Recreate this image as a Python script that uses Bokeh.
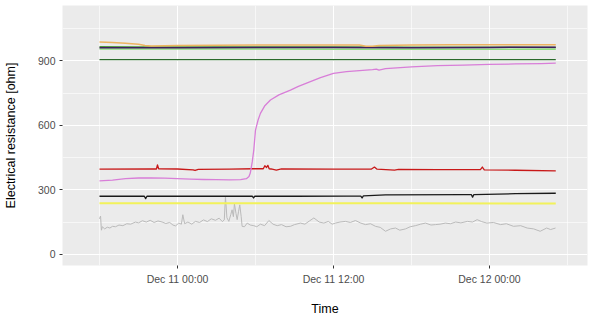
import pandas as pd
from bokeh.plotting import figure
from bokeh.models import Range1d, FixedTicker, DatetimeTickFormatter
from bokeh.embed import file_html
from bokeh.resources import INLINE

# time offsets in hours relative to Dec 11 00:00
BASE = pd.Timestamp("2023-12-11 00:00:00")

orange_h = [-6, -5, -4, -3, -2.5, -2, 0, 3, 6, 9, 12, 14, 14.5, 15, 15.5, 18, 21, 24, 27, 29.1]
orange_v = [988, 986, 983, 978, 972, 970, 972, 973, 974, 974, 974, 974, 968, 968, 972, 974, 975, 975, 976, 976]

purple_h = [-6, -3, 0, 6, 12, 18, 24, 29.1]
purple_v = [962, 962, 962, 963, 963, 962, 963, 964]

green_h = [-6, -3, 0, 6, 12, 18, 24, 29.1]
green_v = [966, 965, 965, 965, 965, 964, 964, 963]

lightgreen_h = [-6, 0, 6, 12, 18, 24, 29.1]
lightgreen_v = [956, 956, 956, 955, 955, 955, 955]

darkgreen_h = [-6, 0, 6, 12, 18, 24, 29.1]
darkgreen_v = [906, 906, 906, 906, 906, 906, 906]

violet_h = [-6, -5, -4, -3, -2, -1, 0, 1, 2, 3, 4, 4.85, 5.3, 5.5, 5.6, 5.75, 5.87, 6.0, 6.2, 6.38,
            6.7, 7.15, 7.8, 8.69, 9.3, 9.98, 11, 12, 13, 14, 15, 15.3, 15.5, 16, 18, 20, 22, 24, 26, 28, 29.1]
violet_v = [342, 345, 352, 355, 355, 354, 352, 350, 348, 347, 346, 347, 352, 362, 378, 430, 486, 578, 625, 656,
            690, 718, 742, 764, 782, 798, 822, 842, 850, 855, 860, 862, 857, 864, 872, 878, 881, 884, 886, 888, 890]

red_h = [-6, -2, -1.62, -1.54, -1.45, 0, 1.2, 1.35, 1.6, 4, 5.9, 6.6, 6.72, 6.85, 6.95, 7.05, 7.2, 7.6, 8,
         12, 14.9, 15.15, 15.35, 16.7, 17.0, 20, 23.3, 23.45, 23.6, 26, 29.1]
red_v = [396, 397, 397, 416, 398, 397, 393, 390, 395, 396, 398, 398, 412, 404, 414, 398, 397, 392, 397,
         396, 396, 406, 396, 392, 395, 394, 394, 406, 393, 391, 388]

black_h = [-6, -3, -2.55, -2.45, -2.35, 0, 5.75, 5.85, 5.95, 9, 13, 14.1, 14.2, 14.3, 16, 22, 22.6, 22.7, 22.8, 26, 29.1]
black_v = [270, 271, 270, 259, 270, 270, 271, 262, 271, 270, 271, 271, 262, 272, 276, 278, 278, 266, 278, 282, 284]

yellow_h = [-6, 6, 18, 29.1]
yellow_v = [238, 237, 237, 236]

gray_h = [-6.0, -5.92, -5.85, -5.78, -5.6, -5.4, -5.2, -5.0, -4.77, -4.5, -4.2, -3.9, -3.6, -3.23, -3.0,
          -2.7, -2.4, -2.1, -1.8, -1.5, -1.18, -0.9, -0.6, -0.35, -0.15, 0.1, 0.3, 0.41, 0.55, 0.8,
          1.1, 1.38, 1.7, 2.0, 2.3, 2.6, 2.92, 3.2, 3.45, 3.6, 3.69, 3.8, 3.95, 4.1, 4.2, 4.3, 4.38,
          4.5, 4.59, 4.7, 4.79, 4.9, 4.97, 5.15, 5.36, 5.6, 5.87, 6.1, 6.38, 6.7, 7.03, 7.35, 7.67,
          8.0, 8.35, 8.69, 9.0, 9.46, 9.8, 10.15, 10.49, 10.9, 11.26, 11.6, 11.9, 12.15, 12.5, 12.92,
          13.3, 13.69, 14.1, 14.46, 14.85, 15.23, 15.6, 16.0, 16.4, 16.77, 17.1, 17.54, 17.9, 18.3,
          18.7, 19.08, 19.5, 19.85, 20.2, 20.6, 21.0, 21.4, 21.8, 22.3, 22.7, 23.05, 23.4, 23.8,
          24.3, 24.85, 25.3, 25.85, 26.4, 26.9, 27.4, 27.9, 28.4, 28.7, 29.08]
gray_v = [165, 178, 112, 128, 118, 126, 122, 130, 128, 136, 133, 142, 140, 150, 146,
          156, 150, 158, 148, 155, 150, 143, 148, 136, 132, 145, 140, 184, 142, 150,
          140, 153, 148, 160, 152, 165, 158, 168, 152, 160, 269, 170, 153, 185, 207, 175, 235,
          190, 161, 200, 230, 175, 130, 128, 145, 136, 133, 128, 140, 133, 157, 140, 133,
          138, 128, 130, 138, 145, 140, 155, 169, 150, 145, 153, 140, 145, 150, 153,
          148, 157, 145, 138, 142, 130, 125, 107, 118, 122, 112, 118, 128, 133,
          140, 145, 136, 138, 140, 145, 142, 150, 146, 153, 150, 161, 152, 145,
          148, 138, 142, 130, 133, 122, 118, 107, 122, 115, 122]

major_tick_h = [0, 12, 24]
minor_tick_h = [-6, 6, 18, 30]
y_major = [0, 300, 600, 900]
y_minor = [150, 450, 750, 1050]


def t(hours):
    return [BASE + pd.Timedelta(hours=h) for h in hours]


def ms(hours):
    return [(BASE + pd.Timedelta(hours=h)).value / 1e6 for h in hours]


p = figure(width=589, height=318, x_axis_type="datetime", output_backend="svg",
           toolbar_location=None,
           x_range=Range1d(BASE + pd.Timedelta(hours=-8.846), BASE + pd.Timedelta(hours=31.54)),
           y_range=Range1d(-52.4, 1158.2),
           min_border_left=62, min_border_right=2, min_border_top=5, min_border_bottom=52)

p.background_fill_color = "#EBEBEB"
p.border_fill_color = "white"
p.outline_line_color = None

series = [
    (gray_h, gray_v, "#BABABA", 1.0),
    (yellow_h, yellow_v, "#F2F25A", 2.0),
    (black_h, black_v, "#1A1A1A", 1.3),
    (red_h, red_v, "#C81818", 1.3),
    (violet_h, violet_v, "#D87ED8", 1.3),
    (darkgreen_h, darkgreen_v, "#2A6A2A", 1.3),
    (lightgreen_h, lightgreen_v, "#90E080", 1.5),
    (green_h, green_v, "#4E9A3A", 1.5),
    (purple_h, purple_v, "#3E1F5E", 1.5),
    (orange_h, orange_v, "#EDB460", 1.5),
]
for hh, vv, col, lw in series:
    p.line(t(hh), vv, line_color=col, line_width=lw, line_join="round")

p.xaxis.ticker = FixedTicker(ticks=ms(major_tick_h), minor_ticks=ms(minor_tick_h))
fmt = "%b %d %H:%M"
p.xaxis.formatter = DatetimeTickFormatter(milliseconds=fmt, seconds=fmt, minsec=fmt, minutes=fmt,
                                          hourmin=fmt, hours=fmt, days=fmt, months=fmt, years=fmt)
p.yaxis.ticker = FixedTicker(ticks=y_major, minor_ticks=y_minor)

for ax in (p.xaxis[0], p.yaxis[0]):
    ax.axis_line_color = None
    ax.major_tick_in = 0
    ax.major_tick_out = 3
    ax.major_tick_line_color = "#333333"
    ax.minor_tick_line_color = None
    ax.major_label_text_font = "Liberation Sans"
    ax.major_label_text_font_size = "10.5px"
    ax.major_label_text_color = "#4D4D4D"
    ax.major_label_standoff = 3
    ax.axis_label_text_font = "Liberation Sans"
    ax.axis_label_text_font_size = "12.5px"
    ax.axis_label_text_font_style = "normal"
    ax.axis_label_text_color = "black"

p.xaxis.axis_label = "Time"
p.xaxis.axis_label_standoff = 14
p.yaxis.axis_label = "Electrical resistance [ohm]"
p.yaxis.axis_label_standoff = 17

for g in (p.xgrid[0], p.ygrid[0]):
    g.grid_line_color = "white"
    g.grid_line_width = 1.1
    g.minor_grid_line_color = "white"
    g.minor_grid_line_width = 0.6

open("out.html", "w").write(file_html(p, INLINE))
